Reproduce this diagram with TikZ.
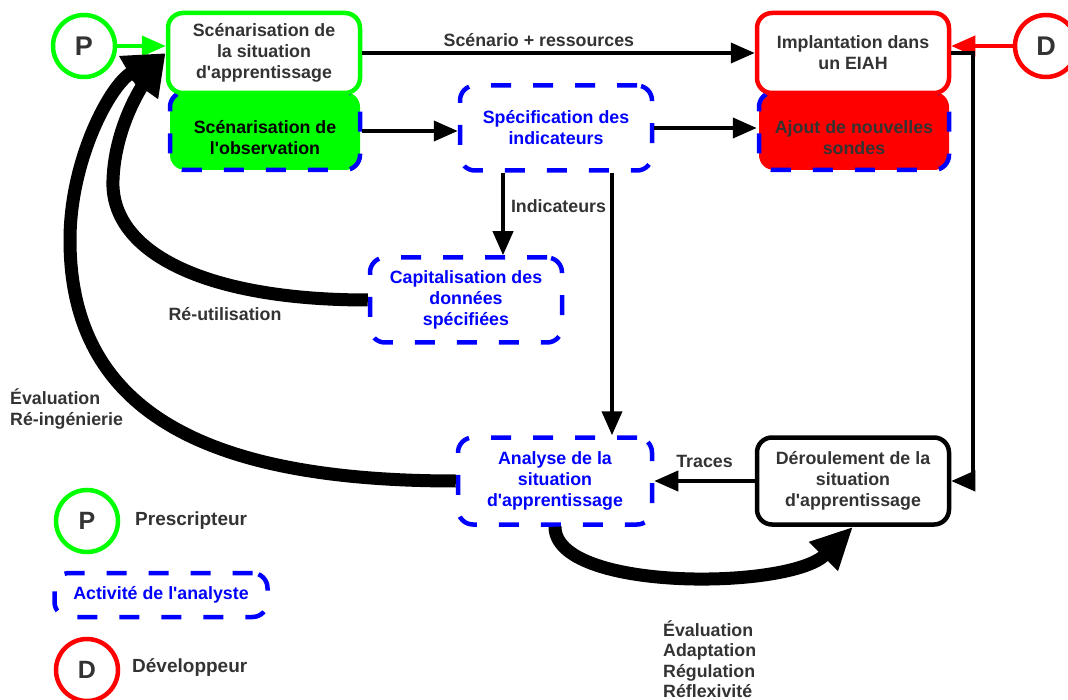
\documentclass[tikz,border=0pt]{standalone}
\usepackage{fontspec}
\setmainfont{Liberation Sans}[Ligatures=TeXOff]
\usepackage{xcolor}
\usepackage{tikz}
\usetikzlibrary{positioning}
\usetikzlibrary{arrows.meta}
\usetikzlibrary{calc}
\pgfdeclarelayer{nodelayer}
\pgfdeclarelayer{edgelayer}
\pgfsetlayers{nodelayer,edgelayer,main}
\definecolor{txtgray}{RGB}{51,51,51}
\definecolor{pgreen}{RGB}{0,255,0}
\definecolor{dred}{RGB}{255,0,0}
\definecolor{ablue}{RGB}{0,0,255}
\tikzset{
    lbl/.style = {font=\fontsize{17.8}{21}\selectfont\bfseries, align=center, text=txtgray, inner sep=0pt},
    plainbox/.style = {lbl, rectangle, rounded corners=15pt, line width=4.5pt, fill=white, minimum width=192pt, minimum height=80pt},
    analystbox/.style = {lbl, text=ablue, rectangle, rounded corners=15pt, draw=ablue, line width=4.5pt, dash pattern=on 20pt off 22pt, minimum width=192pt, minimum height=85pt},
    actor/.style = {circle, line width=4.5pt, fill=white, minimum size=62pt, inner sep=0pt, text=txtgray, font=\fontsize{27}{27}\selectfont\bfseries},
    flow/.style = {line width=4pt, -{Triangle[length=24pt,width=20pt]}},
    bigflow/.style = {line width=13pt, -{Triangle[length=42pt,width=38pt]}}
}
\begin{document}
\begin{tikzpicture}[x=1pt, y=-1pt]
    \useasboundingbox (0,0) rectangle (1068,700);
    \begin{pgfonlayer}{nodelayer}
        \node [plainbox, fill=pgreen, draw=ablue, dash pattern=on 20pt off 22pt, minimum width=190pt, minimum height=78pt] (obs) at (265,131) {};
        \node [lbl, text=black] (obstxt) at (265,138) {Scénarisation de\\l'observation};
        \node [plainbox, draw=pgreen] (scen) at (264,53) {Scénarisation de\\la situation\\d'apprentissage};
        \node [plainbox, fill=dred, draw=ablue, dash pattern=on 20pt off 22pt, minimum width=190pt, minimum height=78pt] (ajout) at (854,131) {};
        \node [lbl] (ajouttxt) at (854,138) {Ajout de nouvelles\\sondes};
        \node [plainbox, draw=dred] (impl) at (853,53) {Implantation dans\\un EIAH};
        \node [analystbox] (spec) at (556,128) {Spécification des\\indicateurs};
        \node [analystbox] (capi) at (466,300) {Capitalisation des\\données\\spécifiées};
        \node [analystbox, minimum width=194pt, minimum height=87pt] (analyse) at (555,481) {Analyse de la\\situation\\d'apprentissage};
        \node [plainbox, draw=black, minimum height=87pt] (derou) at (853,481) {Déroulement de la\\situation\\d'apprentissage};
        \node [actor, draw=pgreen] (P) at (84,46) {P};
        \node [actor, draw=dred] (D) at (1046,46) {D};
        % legende
        \node [actor, draw=pgreen, font=\fontsize{25}{25}\selectfont\bfseries] (Pleg) at (87,521) {P};
        \node [lbl, font=\fontsize{19}{21}\selectfont\bfseries, anchor=west] (presc) at (135,521) {Prescripteur};
        \node [analystbox, minimum width=213pt, minimum height=44pt] (legbox) at (161,595) {Activité de l'analyste};
        \node [actor, draw=dred, font=\fontsize{25}{25}\selectfont\bfseries] (Dleg) at (87,670) {D};
        \node [lbl, font=\fontsize{19}{21}\selectfont\bfseries, anchor=west] (devel) at (132,668) {Développeur};
        \node [lbl] (reutil) at (225,314) {Ré-utilisation};
        \node [lbl, align=left, anchor=west] (reing) at (10,409) {Évaluation\\Ré-ingénierie};
        \node [lbl, align=left, anchor=west, font=\fontsize{17.8}{20.5}\selectfont\bfseries] (regul) at (663,659) {Évaluation\\Adaptation\\Régulation\\Réflexivité};
    \end{pgfonlayer}
    \begin{pgfonlayer}{edgelayer}
        \draw [flow, color=pgreen] (P.east) -- (P.east -| scen.west);
        \draw [flow, color=dred] (D.west) -- (D.west -| impl.east);
        \draw [flow] (scen.east) -- node [lbl, above=4pt, pos=0.45] (scenlbl) {Scénario + ressources} (impl.west);
        \draw [flow] (obs.east) -- (obs.east -| spec.west);
        \draw [flow] (spec.east) -- (spec.east -| ajout.west);
        \draw [flow] ($(spec.south)+(-53,0)$) -- node [lbl, right=6pt, pos=0.4] (indlbl) {Indicateurs} ($(capi.north)+(37,0)$);
        \draw [flow] ($(spec.south)+(56,0)$) -- ($(analyse.north)+(57,0)$);
        \draw [flow] (impl.east) -- ++(22,0) |- (derou.east);
        \draw [flow] (derou.west) -- node [lbl, above=11pt] (tracelbl) {Traces} (analyse.east);
        \draw [bigflow] (analyse.south) .. controls (555,592) and (790,590) .. (derou.south);
        \draw [bigflow] (capi.west) .. controls (200,300) and (110,250) .. (113,180) .. controls (115,120) and (150,75) .. (scen.west);
        \draw [bigflow] (analyse.west) .. controls (220,481) and (70,420) .. (70,240) .. controls (70,160) and (110,85) .. (scen.west);
    \end{pgfonlayer}
\end{tikzpicture}
\end{document}
